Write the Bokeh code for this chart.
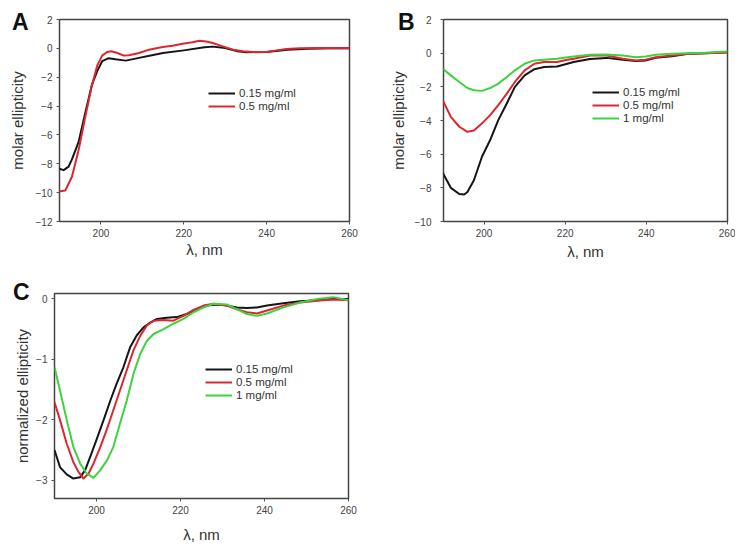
from bokeh.plotting import figure
from bokeh.models import Range1d, FixedTicker, Legend, LegendItem, Div
from bokeh.layouts import row, column
from bokeh.embed import file_html
from bokeh.resources import INLINE

# ---------------- data ----------------
series_labels = ["0.15 mg/ml", "0.5 mg/ml", "1 mg/ml"]
panel_letters = ["A", "B", "C"]
x_ticks = [200, 220, 240, 260]

a_black_x = [189.8, 191, 192.2, 193, 194.6, 196.2, 197.8, 199.1, 200.3, 201.9, 203.5, 206, 209.2, 212, 215, 220, 225, 227, 230, 233, 235, 240, 245, 250, 255, 260]
a_black_y = [-8.33, -8.44, -8.2, -7.7, -6.5, -4.5, -2.55, -1.58, -0.89, -0.68, -0.76, -0.85, -0.66, -0.5, -0.32, -0.14, 0.07, 0.12, 0.02, -0.2, -0.27, -0.25, -0.09, -0.02, 0, 0]
a_red_x = [189.8, 191.4, 193, 194.6, 196.2, 197.8, 199.1, 200.3, 201.5, 202.5, 204, 205.5, 206.8, 209.2, 211.6, 214.9, 217.3, 219.7, 222.1, 223.8, 225.4, 227, 229.4, 231.9, 234.3, 236.7, 240, 242.4, 244.8, 248, 253, 260]
a_red_y = [-9.93, -9.85, -8.9, -7.07, -4.78, -2.6, -1.2, -0.5, -0.25, -0.2, -0.32, -0.5, -0.48, -0.32, -0.09, 0.09, 0.18, 0.32, 0.43, 0.53, 0.48, 0.37, 0.14, -0.09, -0.2, -0.25, -0.25, -0.14, -0.05, 0, 0.02, 0]

b_black_x = [189.8, 191.8, 193.9, 195.1, 195.9, 197.5, 199.5, 201.5, 203.5, 205.6, 207.6, 210, 212.4, 214.8, 218, 220.5, 222.1, 226.1, 230.2, 234.2, 237.4, 239.8, 242.3, 246.3, 250.3, 254.4, 260]
b_black_y = [-7.1, -8.0, -8.37, -8.4, -8.25, -7.55, -6.14, -5.16, -3.98, -2.99, -2.0, -1.32, -0.95, -0.82, -0.79, -0.63, -0.53, -0.35, -0.28, -0.39, -0.47, -0.43, -0.28, -0.18, -0.04, 0, 0.06]
b_red_x = [189.8, 191.8, 193.9, 195.9, 197.5, 199.5, 201.5, 203.5, 205.6, 207.6, 210, 212.4, 214.8, 218, 220.5, 222.1, 226.1, 230.2, 234.2, 237.4, 239.8, 242.3, 246.3, 250.3, 254.4, 260]
b_red_y = [-2.79, -3.78, -4.37, -4.67, -4.6, -4.17, -3.68, -3.09, -2.4, -1.71, -1.02, -0.63, -0.53, -0.53, -0.39, -0.33, -0.14, -0.14, -0.33, -0.43, -0.39, -0.24, -0.14, -0.04, 0, 0.04]
b_green_x = [189.8, 191.8, 193.9, 195.9, 197.5, 199.5, 201.5, 203.5, 205.6, 207.6, 210, 212.4, 214.8, 218, 220.5, 222.1, 226.1, 230.2, 234.2, 237.4, 239.8, 242.3, 246.3, 250.3, 254.4, 260]
b_green_y = [-0.92, -1.32, -1.71, -2.07, -2.2, -2.24, -2.07, -1.81, -1.42, -1.02, -0.63, -0.43, -0.39, -0.33, -0.24, -0.2, -0.1, -0.08, -0.14, -0.24, -0.2, -0.1, -0.04, 0, 0.02, 0.1]

c_black_x = [190, 191.3, 192.9, 194.5, 196.1, 197.3, 198.5, 200.1, 201.7, 203.3, 204.8, 206.4, 208, 209.6, 211.2, 212.8, 214.4, 216.7, 219.1, 221.5, 223.9, 226.3, 228.7, 231, 233.4, 235.8, 238.2, 240.6, 244.5, 248.5, 252.5, 256.4, 260]
c_black_y = [-2.5, -2.78, -2.9, -2.97, -2.95, -2.83, -2.61, -2.31, -2.0, -1.68, -1.4, -1.13, -0.8, -0.6, -0.47, -0.39, -0.33, -0.31, -0.3, -0.25, -0.17, -0.11, -0.09, -0.11, -0.14, -0.15, -0.14, -0.11, -0.07, -0.04, -0.02, 0, 0]
c_red_x = [190, 191.3, 192.9, 194.5, 195.7, 196.9, 198.1, 199.3, 200.9, 202.5, 204, 205.6, 207.2, 208.8, 210.4, 212, 213.6, 216, 218.3, 220.7, 223.1, 225.5, 227.9, 231, 233.4, 235.8, 238.2, 240.6, 244.5, 248.5, 252.5, 256.4, 260]
c_red_y = [-1.71, -2.0, -2.39, -2.7, -2.86, -2.97, -2.89, -2.72, -2.45, -2.15, -1.84, -1.51, -1.18, -0.85, -0.61, -0.44, -0.36, -0.35, -0.36, -0.28, -0.18, -0.11, -0.08, -0.11, -0.17, -0.22, -0.24, -0.19, -0.11, -0.06, -0.03, -0.01, -0.02]
c_green_x = [190, 191.3, 192.9, 194.5, 196.1, 197.7, 199.3, 200.9, 202.5, 204, 205.6, 207.2, 208.8, 210.4, 212, 213.6, 216, 218.3, 220.7, 223.1, 225.5, 227.9, 231, 233.4, 235.8, 238.2, 240.6, 244.5, 248.5, 252.5, 256.4, 260]
c_green_y = [-1.13, -1.51, -2.0, -2.45, -2.72, -2.89, -2.96, -2.83, -2.67, -2.45, -2.06, -1.68, -1.24, -0.91, -0.69, -0.58, -0.5, -0.41, -0.33, -0.22, -0.14, -0.08, -0.09, -0.17, -0.25, -0.28, -0.24, -0.14, -0.06, 0, 0.03, -0.02]

a_y_ticks = [2, 0, -2, -4, -6, -8, -10, -12]
b_y_ticks = [2, 0, -2, -4, -6, -8, -10]
c_y_ticks = [0, -1, -2, -3]

COLORS = ["#151515", "#dd2630", "#3fd23f"]
FONT = "Liberation Sans"


def make_panel(width, height, borders, yrange, yticks, ylabel,
               tick_standoff_y, label_standoff_y, label_standoff_x):
    top, right, bottom, left = borders
    p = figure(width=width, height=height, output_backend="svg", toolbar_location=None,
               x_range=Range1d(190, 260), y_range=Range1d(*yrange),
               min_border_top=top, min_border_right=right,
               min_border_bottom=bottom, min_border_left=left)
    p.xgrid.visible = False
    p.ygrid.visible = False
    p.outline_line_color = "#444444"
    p.outline_line_width = 1.5
    p.background_fill_color = "white"
    p.border_fill_color = None
    p.xaxis.ticker = FixedTicker(ticks=x_ticks)
    p.yaxis.ticker = FixedTicker(ticks=yticks)
    for ax in (p.xaxis[0], p.yaxis[0]):
        ax.axis_line_color = None
        ax.major_tick_in = 0
        ax.major_tick_out = 3
        ax.major_tick_line_color = "#555555"
        ax.minor_tick_line_color = None
        ax.major_label_text_font = FONT
        ax.major_label_text_font_size = "10px"
        ax.major_label_text_color = "#444444"
        ax.axis_label_text_font = FONT
        ax.axis_label_text_font_size = "15px"
        ax.axis_label_text_font_style = "normal"
        ax.axis_label_text_color = "#333333"
    p.xaxis.axis_label = "λ, nm"
    p.yaxis.axis_label = ylabel
    p.yaxis.major_label_standoff = tick_standoff_y
    p.yaxis.axis_label_standoff = label_standoff_y
    p.xaxis.major_label_standoff = 4
    p.xaxis.axis_label_standoff = label_standoff_x
    return p


def add_series(p, xs_list, ys_list, loc):
    items = []
    for i, (xs, ys) in enumerate(zip(xs_list, ys_list)):
        r = p.line(xs, ys, line_color=COLORS[i], line_width=2, line_join="round")
        items.append(LegendItem(label=series_labels[i], renderers=[r]))
    leg = Legend(items=items, location=loc, border_line_color=None,
                 background_fill_alpha=0, padding=0, margin=0, spacing=1,
                 glyph_width=27, glyph_height=12, label_height=12,
                 label_standoff=4, label_text_font=FONT,
                 label_text_font_size="11.5px", label_text_color="#333333")
    p.add_layout(leg, "center")


# borders: (top, right, bottom, left)
pA = make_panel(386, 270, (17, 37, 49, 59), (-12, 2), a_y_ticks, "molar ellipticity", 4, 7, 1)
add_series(pA, [a_black_x, a_red_x], [a_black_y, a_red_y], (149, 109))

pB = make_panel(349, 270, (19, 8, 48, 50), (-10, 2), b_y_ticks, "molar ellipticity", 9, 5, 3)
add_series(pB, [b_black_x, b_red_x, b_green_x], [b_black_y, b_red_y, b_green_y], (149, 97))

pC = make_panel(378, 276, (23, 30, 48, 54), (-3.3, 0.09), c_y_ticks, "normalized ellipticity", 4, 2, 9)
add_series(pC, [c_black_x, c_red_x, c_green_x], [c_black_y, c_red_y, c_green_y], (151, 97))

# panel letters (page positions in px)
letter_pos = [(12, 11), (398, 11), (13, 281)]
letters_html = "".join(
    f'<div style="position:absolute;left:{x}px;top:{y}px;z-index:10;'
    f"font-family:'Liberation Sans';font-weight:bold;font-size:23px;line-height:23px;"
    f'color:#111111;white-space:nowrap">{t}</div>'
    for t, (x, y) in zip(panel_letters, letter_pos)
)
letters = Div(text=letters_html, width=735, height=0, margin=0,
              styles={"overflow": "visible", "position": "relative", "z-index": "10"})

lay = column(letters, row(pA, pB), pC)

with open("out.html", "w") as f:
    f.write(file_html(lay, INLINE))
